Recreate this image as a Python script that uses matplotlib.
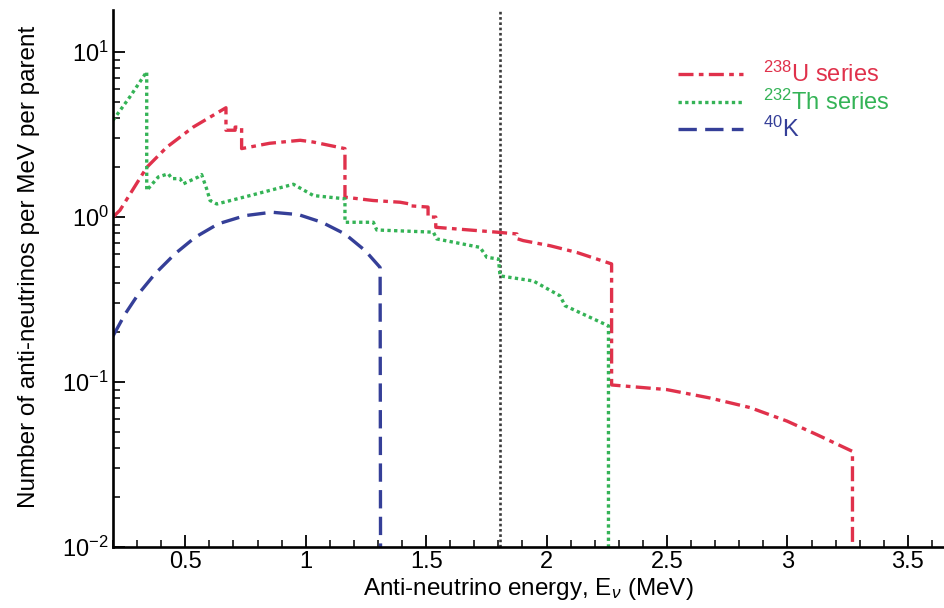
import numpy as np
import matplotlib
matplotlib.use('Agg')
import matplotlib.pyplot as plt
from matplotlib.ticker import MultipleLocator, LogLocator

plt.rcParams['font.family'] = ['Liberation Sans', 'DejaVu Sans']
plt.rcParams['mathtext.fontset'] = 'custom'
plt.rcParams['mathtext.rm'] = 'Liberation Sans'
plt.rcParams['mathtext.it'] = 'Liberation Sans:italic'
plt.rcParams['mathtext.bf'] = 'Liberation Sans:bold'

# (energy in MeV, number per MeV per parent)
# 238U series
u_e = [0.20, 0.229, 0.284, 0.34, 0.423, 0.533, 0.669, 0.669, 0.707, 0.707, 0.734, 0.734,
       0.85, 0.977, 1.031, 1.163, 1.163, 1.28, 1.392, 1.433, 1.433, 1.508, 1.508, 1.540,
       1.540, 1.793, 1.877, 1.877, 1.903, 2.015, 2.126, 2.27, 2.27, 2.499, 2.679, 2.845,
       2.998, 3.122, 3.27, 3.27]
u_n = [1.0, 1.1, 1.48, 2.0, 2.65, 3.51, 4.6, 3.36, 3.36, 3.51, 3.51, 2.60,
       2.80, 2.92, 2.85, 2.60, 1.32, 1.26, 1.23, 1.20, 1.17, 1.15, 1.0, 1.0,
       0.867, 0.81, 0.79, 0.74, 0.72, 0.67, 0.61, 0.52, 0.096, 0.090, 0.080, 0.070,
       0.058, 0.048, 0.038, 0.005]

# 232Th series
th_e = [0.20, 0.27, 0.34, 0.34, 0.388, 0.43, 0.444, 0.478, 0.492, 0.554, 0.568, 0.589,
        0.603, 0.631, 0.769, 0.949, 1.032, 1.163, 1.163, 1.281, 1.295, 1.530, 1.544,
        1.724, 1.752, 1.800, 1.807, 1.945, 2.056, 2.077, 2.167, 2.257, 2.257]
th_n = [3.86, 5.35, 7.6, 1.45, 1.75, 1.83, 1.71, 1.71, 1.59, 1.75, 1.81, 1.48,
        1.26, 1.20, 1.35, 1.58, 1.35, 1.29, 0.93, 0.93, 0.835, 0.81, 0.737,
        0.655, 0.57, 0.557, 0.44, 0.41, 0.333, 0.29, 0.252, 0.219, 0.005]

# 40K
k_e = [0.20, 0.25, 0.305, 0.374, 0.457, 0.541, 0.637, 0.748, 0.859, 0.970, 1.067,
       1.163, 1.247, 1.309, 1.311]
k_n = [0.19, 0.258, 0.341, 0.452, 0.598, 0.754, 0.91, 1.02, 1.07, 1.035, 0.93,
       0.79, 0.626, 0.495, 0.005]

threshold = 1.806

labels = ['$^{238}$U series', '$^{232}$Th series', '$^{40}$K']
colors = ['#e0314b', '#34b356', '#353f98']

fig = plt.figure(figsize=(9.44, 6.08), dpi=100)
ax = fig.add_axes([0.1197, 0.1003, 0.8803, 0.8833])

ax.axvline(threshold, color='#3a3a3a', lw=1.9, ls=(0, (1, 1)), zorder=1)
ax.plot(u_e, u_n, color=colors[0], lw=2.4, ls=(0, (4.5, 1.6, 1.4, 1.6)), label=labels[0])
ax.plot(th_e, th_n, color=colors[1], lw=2.4, ls=(0, (1, 1)), label=labels[1])
ax.plot(k_e, k_n, color=colors[2], lw=2.4, ls=(0, (5.5, 2.5)), label=labels[2])

ax.set_yscale('log')
ax.set_xlim(0.2, 3.65)
ax.set_ylim(0.01, 18)
ax.xaxis.set_major_locator(MultipleLocator(0.5))
ax.xaxis.set_minor_locator(MultipleLocator(0.1))
ax.yaxis.set_minor_locator(LogLocator(base=10, subs=np.arange(2, 10)))
ax.xaxis.set_major_formatter(matplotlib.ticker.FuncFormatter(lambda v, p: '%g' % v))

for s in ['top', 'right']:
    ax.spines[s].set_visible(False)
for s in ['left', 'bottom']:
    ax.spines[s].set_linewidth(1.9)
ax.tick_params(which='major', direction='in', length=8.5, width=1.3, labelsize=17, pad=3)
ax.tick_params(which='minor', direction='in', length=5, width=1.1)

ax.set_xlabel('Anti-neutrino energy, E$_{\\nu}$ (MeV)', fontsize=17.5, labelpad=2)
ax.set_ylabel('Number of anti-neutrinos per MeV per parent', fontsize=17.5, labelpad=6)
ax.yaxis.set_label_coords(-0.088, 0.522)

leg = ax.legend(loc='upper left', bbox_to_anchor=(0.68, 0.903), frameon=False,
                fontsize=17, handlelength=2.75, handletextpad=0.85, labelspacing=0.1,
                borderpad=0, borderaxespad=0)
for t, c in zip(leg.get_texts(), colors):
    t.set_color(c)

fig.savefig('out.png', dpi=100)
